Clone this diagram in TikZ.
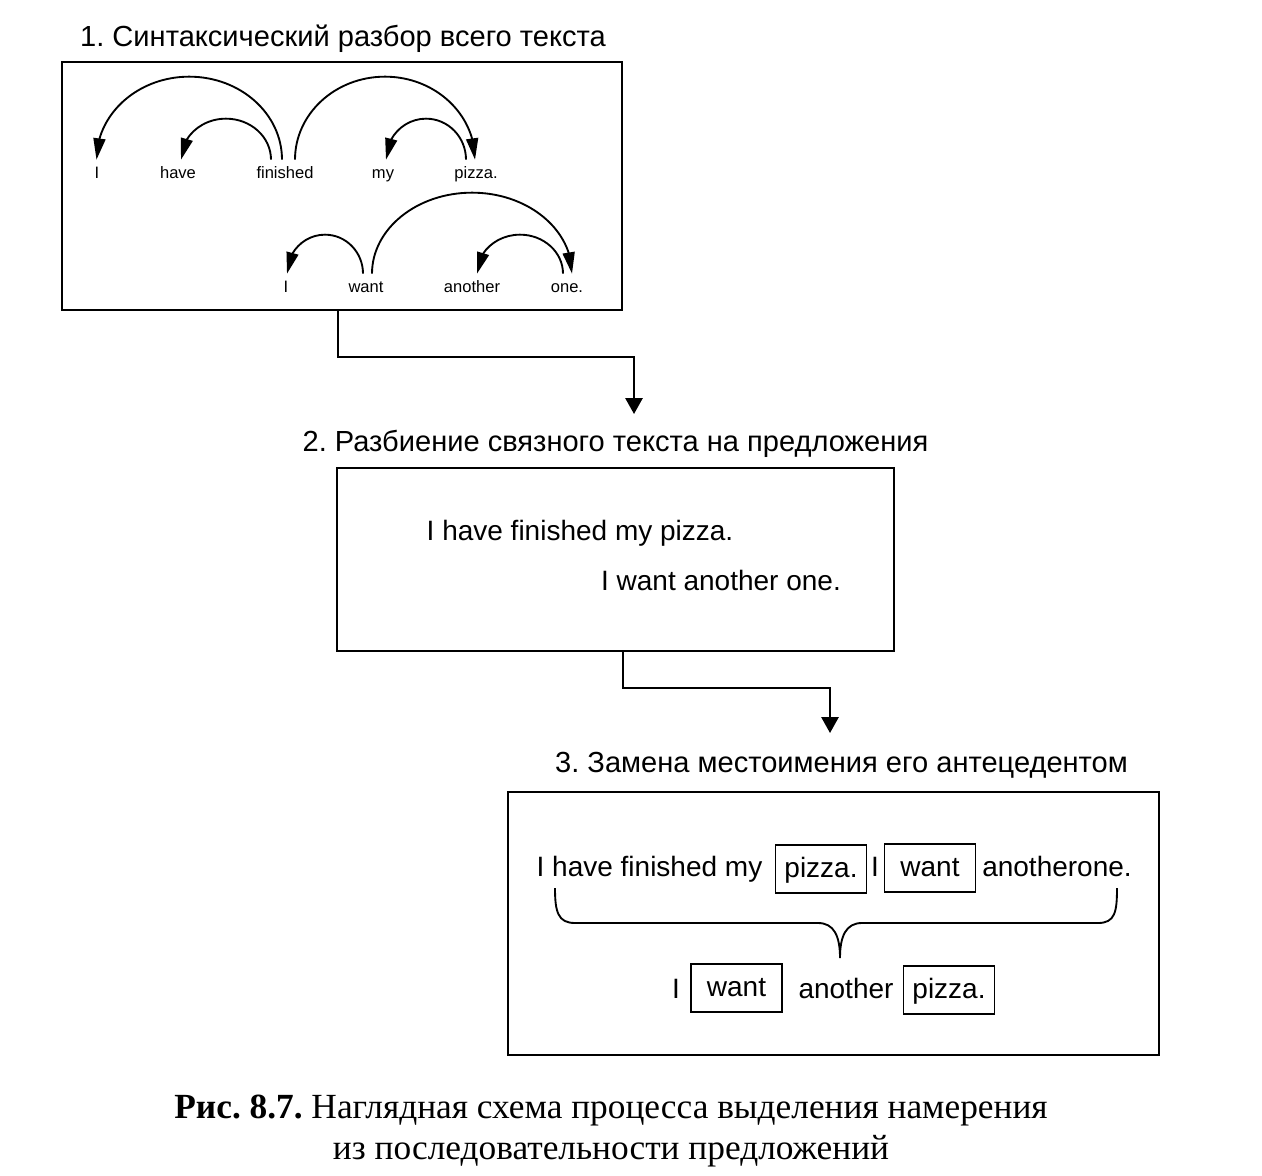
\documentclass[tikz,border=0pt]{standalone}
\usepackage{fontspec}
\setmainfont{Liberation Serif}
\newfontfamily\arial{Liberation Sans}
\usetikzlibrary{arrows.meta,bending}
\frenchspacing

\tikzset{every picture/.style={line width=1.4pt}}
\tikzset{
  title/.style={font=\arial\fontsize{21.8}{26}\selectfont},
  word/.style={font=\arial\fontsize{12.4}{14}\selectfont, inner xsep=0pt, inner ysep=5.8pt, text height=7.5pt, text depth=2.5pt},
  txt/.style={font=\arial\fontsize{21}{25}\selectfont, inner sep=0pt, text height=10pt, text depth=0pt},
  cell/.style={txt, draw, line width=1.2pt, text height=13pt, minimum width=68pt, minimum height=36pt},
  frame/.style={draw, inner sep=0pt},
  dep/.style={-{Triangle[length=16pt,width=9pt,flex]}},
  flow/.style={-{Triangle[length=12pt,width=13pt]}},
}

\begin{document}
\begin{tikzpicture}[x=0.75pt,y=0.75pt,yscale=-1,xscale=1]
\path[use as bounding box] (0,0) rectangle (1262,1176);

%Shape: Rectangle [id:box1]
\draw (342,186) node[frame, minimum width=420pt, minimum height=186pt] (b1) {};
%Shape: Rectangle [id:box2]
\draw (615.5,559.5) node[frame, minimum width=417.75pt, minimum height=137.25pt] (b2) {};
%Shape: Rectangle [id:box3]
\draw (833.5,923.5) node[frame, minimum width=488.25pt, minimum height=197.25pt] (b3) {};

% Text Node
\draw (343,39) node[title] (t1) {1. Синтаксический разбор всего текста};
% Text Node
\draw (615.5,444) node[title] (t2) {2. Разбиение связного текста на предложения};
% Text Node
\draw (841.5,765) node[title] (t3) {3. Замена местоимения его антецедентом};

% Text Node
\draw (97,175) node[word] (i1) {I};
% Text Node
\draw (178,175) node[word] (have) {have};
% Text Node
\draw (285,175) node[word] (fin) {finished};
% Text Node
\draw (383,175) node[word] (my) {my};
% Text Node
\draw (476,175) node[word] (pz) {pizza.};
% Text Node
\draw (286,289) node[word] (i2) {I};
% Text Node
\draw (366,289) node[word] (want) {want};
% Text Node
\draw (472,289) node[word] (anot) {another};
% Text Node
\draw (567,289) node[word] (one) {one.};

%Curve Lines
\draw[dep] ([xshift=-2.25pt]fin.north) arc[start angle=0, end angle=-180, x radius=92.75, y radius=83];
\draw[dep] ([xshift=-10.5pt]fin.north) arc[start angle=0, end angle=-180, x radius=45, y radius=41];
\draw[dep] ([xshift=7.5pt]fin.north) arc[start angle=180, end angle=360, x radius=90, y radius=83];
\draw[dep] ([xshift=-7.5pt]pz.north) arc[start angle=0, end angle=-180, x radius=40, y radius=41];
\draw[dep] ([xshift=-2.25pt]want.north) arc[start angle=0, end angle=-180, x radius=38, y radius=39];
\draw[dep] ([xshift=4.5pt]want.north) arc[start angle=180, end angle=360, x radius=100, y radius=81];
\draw[dep] ([xshift=-3pt]one.north) arc[start angle=0, end angle=-180, x radius=43, y radius=39];

% Text Node
\draw (580,534) node[txt] (s1) {I have finished my pizza.};
% Text Node
\draw (721,584) node[txt] (s2) {I want another one.};

% Text Node
\draw (649.5,870) node[txt] (r1) {I have finished my};
\draw (821,869) node[cell] (p1) {pizza.};
\draw (875,870) node[txt] (r2) {I};
\draw (930,868) node[cell] (w1) {want};
\draw (1057,870) node[txt] (r3) {anotherone.};
% Text Node
\draw (676,992) node[txt] (q1) {I};
\draw (736.5,988) node[cell] (w2) {want};
\draw (846,992) node[txt] (q2) {another};
\draw (949,990) node[cell] (p2) {pizza.};

%Curve Lines [brace]
\draw (555,888) .. controls (555,912) and (558,923) .. (575,923) -- (818,923) .. controls (834,923) and (840,936) .. (840,958)
      .. controls (840,936) and (846,923) .. (862,923) -- (1098,923) .. controls (1115,923) and (1117,912) .. (1117,888);

%Straight Lines
\coordinate (k1) at (338,357);
\coordinate (a1) at (634,414);
\draw[flow] (b1.south -| k1) -- (k1) -| (a1);
%Straight Lines
\coordinate (k2) at (623,688);
\coordinate (a2) at (830,733);
\draw[flow] (b2.south -| k2) -- (k2) -| (a2);

% Text Node
\draw (611,1111) node[font=\fontsize{26.5}{30}\selectfont] (c1) {\textbf{Рис. 8.7.} Наглядная схема процесса выделения намерения};
% Text Node
\draw (611,1151) node[font=\fontsize{26.5}{30}\selectfont] (c2) {из последовательности предложений};

\end{tikzpicture}
\end{document}
